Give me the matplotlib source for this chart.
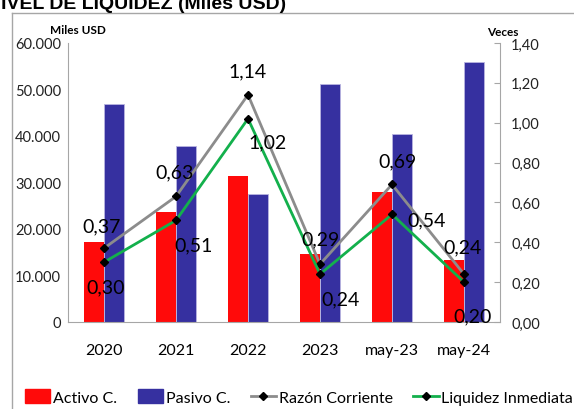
import matplotlib
matplotlib.use("Agg")
import matplotlib.pyplot as plt
from matplotlib.lines import Line2D
from matplotlib.patches import Patch
from matplotlib.ticker import FuncFormatter
import numpy as np

periods = ["2020", "2021", "2022", "2023", "may-23", "may-24"]
activo_c = [17200, 23700, 31400, 14600, 28000, 13300]
pasivo_c = [46900, 37800, 27500, 51200, 40400, 55900]
razon_corriente = [0.37, 0.63, 1.14, 0.29, 0.69, 0.24]
liquidez_inmediata = [0.30, 0.51, 1.02, 0.24, 0.54, 0.20]

# label offsets in points (dx, dy)
razon_offsets = [(-2, 16), (-1, 18), (0, 17), (0, 18), (4, 17), (-1, 20)]
liquidez_offsets = [(1, -18), (13, -18), (14, -17), (15, -18), (25, -4), (6, -24)]

RED = "#FF0A0A"
BLUE = "#3630A0"
GRAY = "#8C8C8C"
GREEN = "#13B04C"
FONT = ["Lato", "DejaVu Sans"]

plt.rcParams["font.family"] = FONT

fig = plt.figure(figsize=(5.74, 4.10), dpi=100)
ax = fig.add_axes([68 / 574, 1 - 323 / 410, 432 / 574, 279 / 410])
ax2 = ax.twinx()

x = np.arange(len(periods))
w = 0.28
ax.bar(x - w / 2, activo_c, w, color=RED, zorder=2)
ax.bar(x + w / 2, pasivo_c, w, color=BLUE, edgecolor="#B8B4E0", linewidth=0.6, zorder=2)
ax.set_xlim(-0.5, len(periods) - 0.5)
ax.set_ylim(0, 60000)
ax.set_yticks(range(0, 60001, 10000))
ax.yaxis.set_major_formatter(FuncFormatter(lambda v, p: f"{int(v):,}".replace(",", ".")))
ax.set_xticks(x)
ax.set_xticklabels(periods)
ax.tick_params(axis="x", length=0, pad=15, labelsize=11.5)
ax.tick_params(axis="y", length=0, pad=5, labelsize=10.5, labelcolor="#222222")
for s in ["top", "right"]:
    ax.spines[s].set_visible(False)
ax.spines["left"].set_color("#A6A6A6")
ax.spines["bottom"].set_color("#A6A6A6")

ax2.plot(x, razon_corriente, color=GRAY, lw=2, marker="D", ms=4.5,
         mfc="black", mec="black", zorder=3)
ax2.plot(x, liquidez_inmediata, color=GREEN, lw=2, marker="D", ms=4.5,
         mfc="black", mec="black", zorder=3)
ax2.set_ylim(0, 1.4)
ax2.set_yticks(np.arange(0, 1.41, 0.2))
ax2.yaxis.set_major_formatter(FuncFormatter(lambda v, p: f"{v:.2f}".replace(".", ",")))
ax2.tick_params(axis="y", direction="in", length=4, color="#A6A6A6", pad=8,
                labelsize=10.5, labelcolor="#222222")
for s in ["top", "left", "bottom"]:
    ax2.spines[s].set_visible(False)
ax2.spines["right"].set_color("#A6A6A6")

for xi, v, off in zip(x, razon_corriente, razon_offsets):
    ax2.annotate(f"{v:.2f}".replace(".", ","), (xi, v), xytext=off,
                 textcoords="offset points", ha="center", va="center", fontsize=14)
for xi, v, off in zip(x, liquidez_inmediata, liquidez_offsets):
    ax2.annotate(f"{v:.2f}".replace(".", ","), (xi, v), xytext=off,
                 textcoords="offset points", ha="center", va="center", fontsize=14)

fig.text(50 / 574, 1 - 30 / 410, "Miles USD", fontsize=8.5, fontweight="bold", va="center")
fig.text(487 / 574, 1 - 32 / 410, "Veces", fontsize=8.5, fontweight="bold", va="center")

# title is clipped at the top-left edge, as in the source image
fig.text(-13 / 574, 1 - 9 / 410, "NIVEL DE LIQUIDEZ (Miles USD)",
         family=["Liberation Sans", "DejaVu Sans"], fontweight="bold",
         fontsize=14, va="baseline", ha="left")

# outer frame
fig.add_artist(Line2D([12 / 574, 12 / 574], [0, 1 - 14 / 410], transform=fig.transFigure,
                      color="#A6A6A6", lw=1))
fig.add_artist(Line2D([12 / 574, 1], [1 - 14 / 410, 1 - 14 / 410], transform=fig.transFigure,
                      color="#A6A6A6", lw=1))

handles = [
    Patch(color=RED, label="Activo C."),
    Patch(color=BLUE, label="Pasivo C."),
    Line2D([], [], color=GRAY, lw=2, marker="D", ms=4, mfc="black", mec="black",
           label="Razón Corriente"),
    Line2D([], [], color=GREEN, lw=2, marker="D", ms=4, mfc="black", mec="black",
           label="Liquidez Inmediata"),
]
fig.legend(handles=handles, loc="center", bbox_to_anchor=(299 / 574, 1 - 398 / 410),
           ncol=4, frameon=False, fontsize=11.5, handlelength=1.6, handleheight=0.9,
           handletextpad=0.15, columnspacing=1.3, borderpad=0)

fig.savefig("out.png", dpi=100)
